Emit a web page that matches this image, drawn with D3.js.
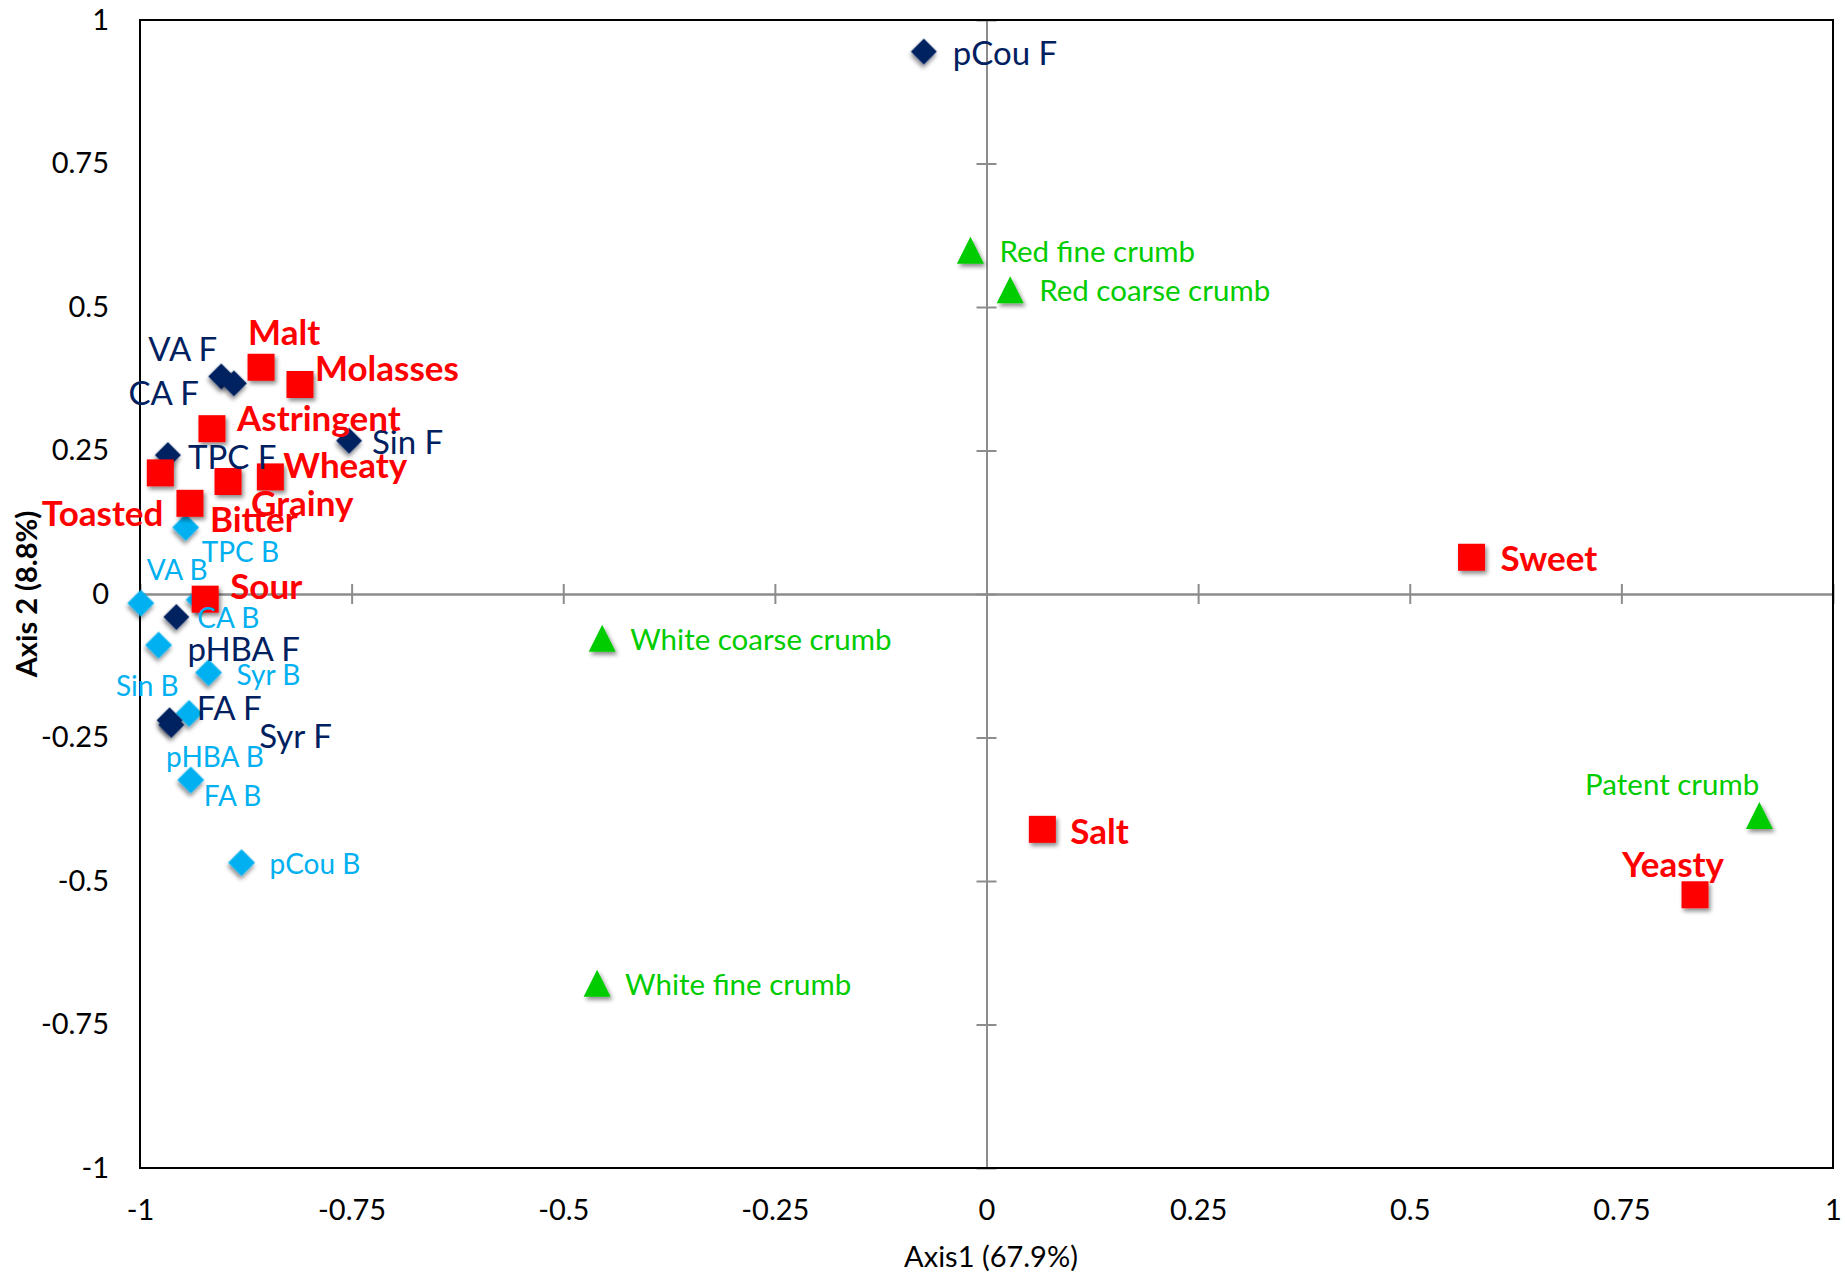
<!DOCTYPE html>
<html>
<head>
<meta charset="utf-8">
<script src="https://cdn.jsdelivr.net/npm/d3@7"></script>
<style>
  html, body { margin: 0; padding: 0; background: #fff; }
  svg { display: block; font-family: Lato, "Open Sans", sans-serif; }
</style>
</head>
<body>
<svg id="chart" width="1845" height="1276"></svg>
<script>
// ---- Data: PCA loadings on axes 1 and 2 ----
const freeNames  = ["pCou F", "VA F", "CA F", "Sin F", "TPC F", "pHBA F", "FA F", "Syr F"];
const freeX      = [-0.074, -0.904, -0.889, -0.753, -0.967, -0.957, -0.965, -0.963];
const freeY      = [ 0.945,  0.379,  0.367,  0.267,  0.242, -0.040, -0.220, -0.228];

const boundNames = ["TPC B", "VA B", "CA B", "Sin B", "Syr B", "pHBA B", "FA B", "pCou B"];
const boundX     = [-0.946, -0.999, -0.930, -0.978, -0.919, -0.942, -0.940, -0.880];
const boundY     = [ 0.116, -0.016, -0.010, -0.089, -0.137, -0.208, -0.324, -0.468];

const sensoryNames = ["Malt", "Molasses", "Astringent", "Toasted", "Wheaty", "Grainy", "Bitter", "Sour", "Sweet", "Salt", "Yeasty"];
const sensoryX     = [-0.857, -0.811, -0.915, -0.976, -0.846, -0.896, -0.941, -0.923, 0.573, 0.066, 0.837];
const sensoryY     = [ 0.395,  0.365,  0.288,  0.211,  0.204,  0.196,  0.158, -0.009, 0.064, -0.410, -0.524];

const crumbNames = ["Red fine crumb", "Red coarse crumb", "White coarse crumb", "White fine crumb", "Patent crumb"];
const crumbX     = [-0.019, 0.028, -0.454, -0.460, 0.913];
const crumbY     = [ 0.599, 0.530, -0.077, -0.678, -0.386];

const tickValues = [-1, -0.75, -0.5, -0.25, 0, 0.25, 0.5, 0.75, 1];
const tickLabels = ["-1", "-0.75", "-0.5", "-0.25", "0", "0.25", "0.5", "0.75", "1"];

const xTitle = "Axis1 (67.9%)";
const yTitle = "Axis 2 (8.8%)";

// ---- Label placement (pixel nudges from each marker: dx, dy, anchor) ----
const labelNudge = {
  "pCou F": [29, 2, "start"], "VA F": [-4, -27, "end"], "CA F": [-35, 10, "end"],
  "Sin F": [23, 1, "start"], "TPC F": [20, 2, "start"], "pHBA F": [11, 32, "start"],
  "FA F": [27, -12, "start"], "Syr F": [88, 11, "start"],
  "TPC B": [16, 25, "start"], "VA B": [6, -33, "start"], "CA B": [-2, 18, "start"],
  "Sin B": [20, 41, "end"], "Syr B": [28, 2, "start"], "pHBA B": [-23, 44, "start"],
  "FA B": [13, 16, "start"], "pCou B": [28, 1, "start"],
  "Malt": [-13, -35, "start"], "Molasses": [15, -16, "start"], "Astringent": [25, -10, "start"],
  "Toasted": [3, 41, "end"], "Wheaty": [13, -12, "start"], "Grainy": [23, 22, "start"],
  "Bitter": [20, 16, "start"], "Sour": [25, -13, "start"], "Sweet": [29, 1, "start"],
  "Salt": [28, 2, "start"], "Yeasty": [29, -30, "end"],
  "Red fine crumb": [29, 1, "start"], "Red coarse crumb": [29, 1, "start"],
  "White coarse crumb": [28, 1, "start"], "White fine crumb": [28, 1, "start"],
  "Patent crumb": [0, -31, "end"]
};

// ---- Layout ----
const W = 1845, H = 1276;
const plot = { left: 140, right: 1833, top: 20, bottom: 1168 };

const x = d3.scaleLinear().domain([-1, 1]).range([plot.left, plot.right]);
const y = d3.scaleLinear().domain([-1, 1]).range([plot.bottom, plot.top]);

const svg = d3.select("#chart");

// drop shadow used by the markers
const defs = svg.append("defs");
defs.append("filter")
  .attr("id", "mkShadow").attr("x", "-60%").attr("y", "-60%").attr("width", "220%").attr("height", "220%")
  .append("feDropShadow")
  .attr("dx", 2).attr("dy", 3).attr("stdDeviation", 2.2)
  .attr("flood-color", "#000").attr("flood-opacity", 0.45);

const fmt = d => tickLabels[tickValues.indexOf(d)];

// tick labels along the left and bottom edges of the plot frame
const leftAxis = svg.append("g")
  .attr("transform", `translate(${plot.left},0)`)
  .call(d3.axisLeft(y).tickValues(tickValues).tickFormat(fmt).tickSize(0).tickPadding(31));
const bottomAxis = svg.append("g")
  .attr("transform", `translate(0,${plot.bottom})`)
  .call(d3.axisBottom(x).tickValues(tickValues).tickFormat(fmt).tickSize(0).tickPadding(31));
[leftAxis, bottomAxis].forEach(g => {
  g.select(".domain").remove();
  g.selectAll("text").attr("font-size", 29).attr("fill", "#000").style("font-family", "Lato, sans-serif");
});

// centre axes through the origin with crossing tick marks
const axisGrey = "#8c8c8c";
function centreAxis(gen, transform) {
  const g = svg.append("g").attr("transform", transform)
    .call(gen.tickValues(tickValues).tickFormat("").tickSize(10).tickSizeOuter(0));
  g.select(".domain").attr("stroke", axisGrey).attr("stroke-width", 2);
  g.selectAll(".tick line").attr("stroke", axisGrey).attr("stroke-width", 2);
  return g;
}
centreAxis(d3.axisBottom(x), `translate(0,${y(0)})`);
centreAxis(d3.axisTop(x), `translate(0,${y(0)})`);
centreAxis(d3.axisLeft(y), `translate(${x(0)},0)`);
centreAxis(d3.axisRight(y), `translate(${x(0)},0)`);

// plot frame
svg.append("rect")
  .attr("x", plot.left).attr("y", plot.top)
  .attr("width", plot.right - plot.left).attr("height", plot.bottom - plot.top)
  .attr("fill", "none").attr("stroke", "#000").attr("stroke-width", 2);

// axis titles
svg.append("text")
  .attr("x", 991).attr("y", 1267)
  .attr("text-anchor", "middle").attr("font-size", 29).attr("fill", "#000")
  .text(xTitle);
svg.append("text")
  .attr("transform", `translate(37,${y(0)}) rotate(-90)`)
  .attr("text-anchor", "middle").attr("font-size", 29).attr("font-weight", "bold").attr("fill", "#000")
  .text(yTitle);

// ---- Marker shapes ----
const isoTriangle = {
  draw(ctx, size) {
    const s = Math.sqrt(size), h = s / 2;
    ctx.moveTo(0, -h); ctx.lineTo(h, h); ctx.lineTo(-h, h); ctx.closePath();
  }
};

const series = [
  { names: boundNames,   xs: boundX,   ys: boundY,   color: "#00b0f0", type: d3.symbolSquare, size: 360, rotate: 45, font: 28, weight: "normal" },
  { names: freeNames,    xs: freeX,    ys: freeY,    color: "#002060", type: d3.symbolSquare, size: 340, rotate: 45, font: 33, weight: "normal" },
  { names: sensoryNames, xs: sensoryX, ys: sensoryY, color: "#ff0000", type: d3.symbolSquare, size: 729, rotate: 0,  font: 35, weight: "bold" },
  { names: crumbNames,   xs: crumbX,   ys: crumbY,   color: "#00cc00", type: isoTriangle,     size: 729, rotate: 0,  font: 29.5, weight: "normal" }
];

const markerLayer = svg.append("g");
const labelLayer = svg.append("g");

series.forEach(s => {
  const pts = s.names.map((n, i) => ({ name: n, vx: s.xs[i], vy: s.ys[i] }));
  markerLayer.append("g").selectAll("path")
    .data(pts).join("path")
    .attr("d", d3.symbol().type(s.type).size(s.size))
    .attr("transform", d => `translate(${x(d.vx)},${y(d.vy)}) rotate(${s.rotate})`)
    .attr("fill", s.color)
    .attr("filter", "url(#mkShadow)");

  labelLayer.append("g").selectAll("text")
    .data(pts).join("text")
    .attr("x", d => x(d.vx) + labelNudge[d.name][0])
    .attr("y", d => y(d.vy) + labelNudge[d.name][1] + 0.36 * s.font)
    .attr("text-anchor", d => labelNudge[d.name][2])
    .attr("font-size", s.font)
    .attr("font-weight", s.weight)
    .attr("fill", s.color)
    .text(d => d.name);
});
</script>
</body>
</html>
